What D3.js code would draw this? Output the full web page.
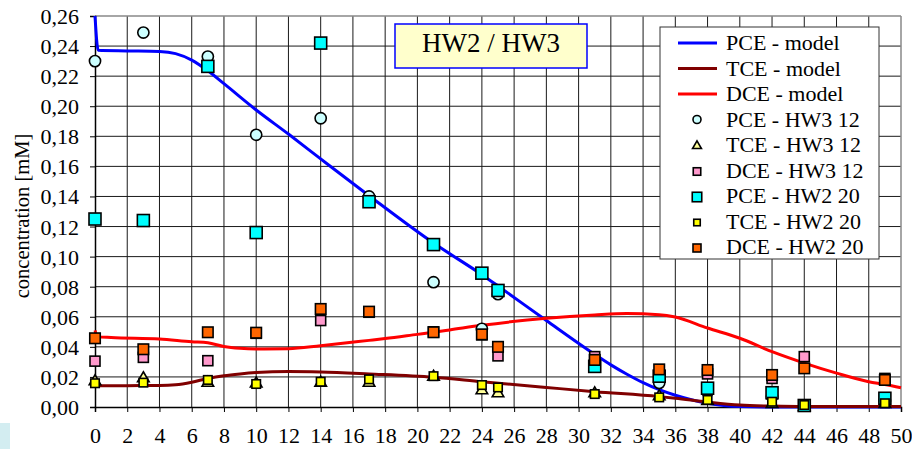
<!DOCTYPE html>
<html>
<head>
<meta charset="utf-8">
<script src="https://cdn.jsdelivr.net/npm/d3@7"></script>
<style>
  html, body { margin: 0; padding: 0; background: #fff; }
  svg { display: block; }
</style>
</head>
<body>
<svg id="chart" width="912" height="449"></svg>
<script>
// ---------- data ----------
const days = [0, 3, 7, 10, 14, 17, 21, 24, 25, 31, 35, 38, 42, 44, 49];

const pceHW3 = [0.230, 0.249, 0.233, 0.181, 0.192, 0.140, 0.083, 0.052, 0.075, 0.030, 0.016, 0.010, 0.007, 0.001, 0.004];
const tceHW3 = [0.017, 0.019, 0.016, 0.0155, 0.016, 0.016, 0.020, 0.011, 0.009, 0.009, 0.007, 0.004, 0.002, 0.000, 0.002];
const dceHW3 = [0.0305, 0.033, 0.0308, 0.049, 0.0575, 0.063, 0.050, 0.048, 0.034, 0.0335, 0.020, 0.022, 0.019, 0.0335, 0.019];
const pceHW2 = [0.125, 0.124, 0.2265, 0.116, 0.242, 0.1365, 0.108, 0.089, 0.0775, 0.027, 0.0205, 0.0125, 0.0095, 0.001, 0.0058];
const tceHW2 = [0.0158, 0.0162, 0.018, 0.0153, 0.0168, 0.0184, 0.0205, 0.0146, 0.013, 0.0086, 0.0064, 0.0047, 0.0035, 0.0013, 0.0025];
const dceHW2 = [0.0457, 0.0384, 0.0497, 0.0494, 0.0652, 0.0634, 0.0497, 0.0483, 0.040, 0.0313, 0.025, 0.0246, 0.0213, 0.0257, 0.018];

const pceModel = [[0,0.260],[0.2,0.2372],[2,0.2368],[4,0.2364],[5,0.2350],[6,0.2307],[7,0.2236],[8,0.2150],
  [10,0.1975],[12,0.1815],[14,0.1650],[17,0.1405],[21,0.1090],[24,0.0880],[25,0.0805],
  [28,0.0575],[31,0.0350],[32,0.0280],[33,0.0218],[34,0.0162],[35,0.0115],[36,0.0078],[37,0.0048],
  [38,0.0025],[39,0.0010],[40,0.0003],[42,0],[50,0]];
const tceModel = [[0,0.0142],[2,0.0142],[4,0.0143],[5,0.0148],[6,0.0165],[7,0.0190],[8,0.0208],[9,0.0220],
  [10,0.0229],[12,0.0236],[14,0.0233],[17,0.0220],[21,0.0198],[24,0.0168],[28,0.0130],[31,0.0102],
  [35,0.0069],[36,0.0058],[38,0.0033],[40,0.0013],[42,0.0006],[44,0.0003],[50,0.0003]];
const dceModel = [[0,0.0510],[0.15,0.0468],[1,0.0462],[4,0.0452],[6,0.0434],[7,0.0427],[8,0.0402],[9,0.0390],
  [10,0.0386],[12,0.0388],[14,0.0408],[17,0.0443],[18,0.0455],[20,0.0483],[21,0.0497],[22,0.0512],
  [24,0.0543],[28,0.0590],[31,0.0612],[33,0.0621],[35,0.0614],[36,0.0598],[38,0.0525],[40,0.0457],
  [42,0.0368],[44,0.0292],[46,0.0225],[48,0.0168],[49,0.0150],[50,0.0128]];

const xTicks = d3.range(0, 51, 2);
const yTicks = d3.range(0, 0.2601, 0.02);
const chartTitle = "HW2 / HW3";
const yTitle = "concentration [mM]";
const legendLabels = ["PCE - model", "TCE - model", "DCE - model", "PCE - HW3 12", "TCE - HW3 12",
  "DCE - HW3 12", "PCE - HW2 20", "TCE - HW2 20", "DCE - HW2 20"];

// ---------- layout ----------
const FONT = "'Liberation Serif', Tinos, 'Times New Roman', 'DejaVu Serif', serif";
const svg = d3.select("#chart");
const L = 95, R = 901, T = 16, B = 407;
const x = d3.scaleLinear().domain([0, 50]).range([L, R]);
const y = d3.scaleLinear().domain([0, 0.26]).range([B, T]);
const fmt = v => d3.format(".2f")(v).replace(".", ",");

// small artifact at bottom-left
svg.append("rect").attr("x", 0).attr("y", 423).attr("width", 10).attr("height", 26).attr("fill", "#d3edf1");

// grid
const grid = svg.append("g");
xTicks.filter(d => d > 0 && d < 50).forEach(d => {
  grid.append("line").attr("x1", x(d)).attr("x2", x(d)).attr("y1", T).attr("y2", B)
    .attr("stroke", "#1a1a1a").attr("stroke-width", 1);
});
yTicks.filter(d => d > 0.001 && d < 0.259).forEach(d => {
  grid.append("line").attr("x1", L).attr("x2", R).attr("y1", y(d)).attr("y2", y(d))
    .attr("stroke", "#1a1a1a").attr("stroke-width", 1);
});
grid.append("line").attr("x1", L).attr("x2", R).attr("y1", T).attr("y2", T).attr("stroke", "#888").attr("stroke-width", 1.5);
grid.append("line").attr("x1", R).attr("x2", R).attr("y1", T).attr("y2", B).attr("stroke", "#888").attr("stroke-width", 1.5);

// axes
const xAxis = d3.axisBottom(x).tickValues(xTicks).tickSize(5).tickPadding(18).tickFormat(d3.format("d"));
const yAxis = d3.axisLeft(y).tickValues(yTicks).tickSize(5).tickPadding(11).tickFormat(fmt);
const gx = svg.append("g").attr("transform", `translate(0,${B})`).call(xAxis);
const gy = svg.append("g").attr("transform", `translate(${L},0)`).call(yAxis);
[gx, gy].forEach(g => {
  g.attr("font-family", null).attr("font-size", null);
  g.select(".domain").attr("stroke", "#000").attr("stroke-width", 1.5);
  g.selectAll(".tick line").attr("stroke", "#000").attr("stroke-width", 1);
  g.selectAll(".tick text").style("font-family", FONT).style("font-size", "22px").attr("fill", "#000");
});
gx.selectAll(".tick text").attr("dy", "0.71em").attr("y", 20);
gy.selectAll(".tick text").attr("dy", "0.34em");

// y title
svg.append("text").attr("transform", "translate(29,216) rotate(-90)").attr("text-anchor", "middle")
  .style("font-family", FONT).style("font-size", "20.5px").attr("fill", "#000").text(yTitle);

// model lines
const line = d3.line().x(d => x(d[0])).y(d => y(d[1])).curve(d3.curveMonotoneX);
const plot = svg.append("g");
plot.append("path").datum(pceModel).attr("d", line).attr("fill", "none").attr("stroke", "#0000ff").attr("stroke-width", 3);
plot.append("path").datum(dceModel).attr("d", line).attr("fill", "none").attr("stroke", "#ff0000").attr("stroke-width", 3);
plot.append("path").datum(tceModel).attr("d", line).attr("fill", "none").attr("stroke", "#800000").attr("stroke-width", 3);

// markers
const sw = 1.6;
function squares(g, vals, size, fill) {
  g.selectAll(null).data(days.map((d, i) => [d, vals[i]])).enter().append("rect")
    .attr("x", d => x(d[0]) - size / 2).attr("y", d => y(d[1]) - size / 2)
    .attr("width", size).attr("height", size)
    .attr("fill", fill).attr("stroke", "#000").attr("stroke-width", sw);
}
const tri = d3.symbol().type(d3.symbolTriangle).size(58);
const mk = svg.append("g");
mk.selectAll(null).data(days.map((d, i) => [d, pceHW3[i]])).enter().append("circle")
  .attr("cx", d => x(d[0])).attr("cy", d => y(d[1])).attr("r", 5.6)
  .attr("fill", "#ccffff").attr("stroke", "#000").attr("stroke-width", sw);
mk.selectAll(null).data(days.map((d, i) => [d, tceHW3[i]])).enter().append("path")
  .attr("d", tri).attr("transform", d => `translate(${x(d[0])},${y(d[1])})`)
  .attr("fill", "#ffff99").attr("stroke", "#000").attr("stroke-width", sw);
squares(mk, dceHW3, 10, "#ff99cc");
squares(mk, pceHW2, 12, "#00ffff");
squares(mk, tceHW2, 8.5, "#ffff00");
squares(mk, dceHW2, 10.5, "#ff6600");

// title box
svg.append("rect").attr("x", 395).attr("y", 24).attr("width", 192).attr("height", 44)
  .attr("fill", "#ffffcc").attr("stroke", "#0000ff").attr("stroke-width", 1.5);
svg.append("text").attr("x", 491).attr("y", 52).attr("text-anchor", "middle")
  .style("font-family", FONT).style("font-size", "27px").attr("fill", "#000").text(chartTitle);

// legend
const lg = svg.append("g");
lg.append("rect").attr("x", 660).attr("y", 27).attr("width", 219).attr("height", 232)
  .attr("fill", "#fff").attr("stroke", "#333").attr("stroke-width", 1);
const rowY = i => 43 + 25.5 * i;
const lineColors = ["#0000ff", "#800000", "#ff0000"];
legendLabels.forEach((lab, i) => {
  const cy = rowY(i), cx = 697;
  if (i < 3) {
    lg.append("line").attr("x1", 678).attr("x2", 717).attr("y1", cy).attr("y2", cy)
      .attr("stroke", lineColors[i]).attr("stroke-width", 3);
  } else if (i === 3) {
    lg.append("circle").attr("cx", cx).attr("cy", cy).attr("r", 4).attr("fill", "#ccffff").attr("stroke", "#000").attr("stroke-width", 1.6);
  } else if (i === 4) {
    lg.append("path").attr("d", d3.symbol().type(d3.symbolTriangle).size(34)).attr("transform", `translate(${cx},${cy + 1})`)
      .attr("fill", "#ffff99").attr("stroke", "#000").attr("stroke-width", 1.6);
  } else {
    const sizes = { 5: 7.5, 6: 9.5, 7: 6.5, 8: 8 };
    const fills = { 5: "#ff99cc", 6: "#00ffff", 7: "#ffff00", 8: "#ff6600" };
    const s = sizes[i];
    lg.append("rect").attr("x", cx - s / 2).attr("y", cy - s / 2 + 1).attr("width", s).attr("height", s)
      .attr("fill", fills[i]).attr("stroke", "#000").attr("stroke-width", 1.6);
  }
  lg.append("text").attr("x", 726).attr("y", cy + 7)
    .style("font-family", FONT).style("font-size", "22px").attr("fill", "#000").text(lab);
});
</script>
</body>
</html>
